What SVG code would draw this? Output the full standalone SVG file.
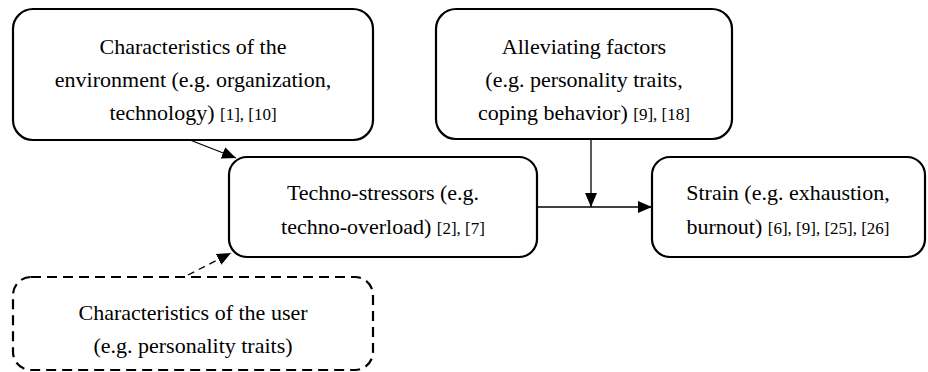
<svg xmlns="http://www.w3.org/2000/svg" width="928" height="372" viewBox="0 0 928 372">
  <style>
    .box { fill: #ffffff; stroke: #000000; stroke-width: 2.2; }
    .dashed { stroke-dasharray: 10 6; }
    .label { font-family: "Liberation Serif", "Times New Roman", serif; font-size: 22px; fill: #000000; text-anchor: middle; }
    .ref { font-size: 17px; }
    .edge { stroke: #000000; stroke-width: 1.3; fill: none; }
  </style>
  <defs>
    <marker id="arrow" viewBox="0 0 14 12" refX="14" refY="6" markerWidth="14" markerHeight="12" markerUnits="userSpaceOnUse" orient="auto">
      <path d="M0,0 L14,6 L0,12 z" fill="#000000"/>
    </marker>
  </defs>

  <g id="connectors">
    <line class="edge" x1="190" y1="140" x2="236" y2="158" marker-end="url(#arrow)"/>
    <line class="edge" x1="188" y1="275" x2="231" y2="253" stroke-dasharray="7 5" marker-end="url(#arrow)"/>
    <line class="edge" x1="537" y1="207" x2="652" y2="207" marker-end="url(#arrow)"/>
    <line class="edge" x1="591" y1="139" x2="591" y2="207" marker-end="url(#arrow)"/>
  </g>

  <g id="environment">
    <rect class="box" x="13" y="9" width="360" height="131" rx="20"/>
    <text class="label" x="193" y="54">Characteristics of the</text>
    <text class="label" x="193" y="87">environment (e.g. organization,</text>
    <text class="label" x="193" y="120">technology) <tspan class="ref">[1], [10]</tspan></text>
  </g>

  <g id="alleviating">
    <rect class="box" x="436" y="9" width="296" height="130" rx="20"/>
    <text class="label" x="584" y="54">Alleviating factors</text>
    <text class="label" x="584" y="87">(e.g. personality traits,</text>
    <text class="label" x="584" y="120">coping behavior) <tspan class="ref">[9], [18]</tspan></text>
  </g>

  <g id="technostressors">
    <rect class="box" x="229" y="157" width="308" height="100" rx="18"/>
    <text class="label" x="383" y="200">Techno-stressors (e.g.</text>
    <text class="label" x="383" y="234">techno-overload) <tspan class="ref">[2], [7]</tspan></text>
  </g>

  <g id="strain">
    <rect class="box" x="652" y="157" width="273" height="100" rx="18"/>
    <text class="label" x="788" y="200">Strain (e.g. exhaustion,</text>
    <text class="label" x="788" y="234">burnout) <tspan class="ref">[6], [9], [25], [26]</tspan></text>
  </g>

  <g id="user">
    <rect class="box dashed" x="13" y="277" width="360" height="93" rx="18"/>
    <text class="label" x="193" y="320">Characteristics of the user</text>
    <text class="label" x="193" y="353">(e.g. personality traits)</text>
  </g>
</svg>
